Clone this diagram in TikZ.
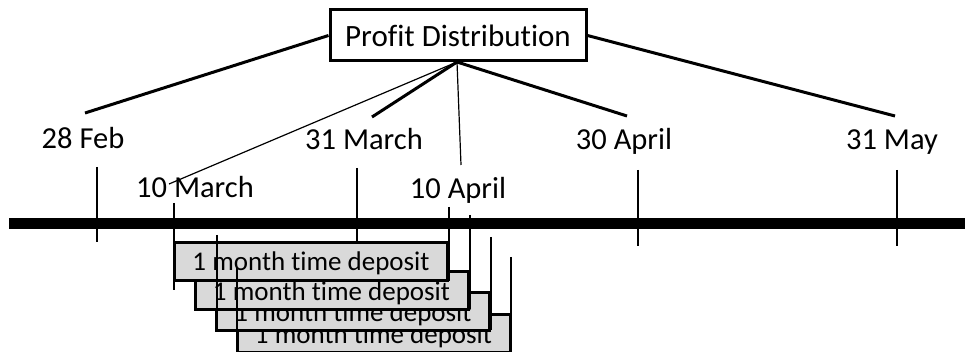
\documentclass[tikz,border=0pt]{standalone}
\usepackage{fontspec}
\setmainfont{Carlito}[Ligatures=NoCommon]
\definecolor{boxgray}{RGB}{217,217,217}
\begin{document}
\begin{tikzpicture}[x=1pt,y=-1pt,
  datelabel/.style={font=\fontsize{30.5}{36}\selectfont, inner sep=0pt, anchor=base},
  thickconn/.style={line width=3pt},
  thinconn/.style={line width=1.2pt},
  tick/.style={line width=1.5pt},
  depbox/.style={draw, line width=3pt, fill=boxgray, minimum width=273pt, minimum height=38pt,
    inner sep=0pt, text height=19pt, text depth=0pt, font=\fontsize{27}{32}\selectfont}]
\useasboundingbox (0,0) rectangle (965,352);

% title
\node[draw, line width=3pt, minimum width=256pt, minimum height=51pt, inner sep=0pt,
  font=\fontsize{31}{36}\selectfont] (pd) at (458,35.5) {Profit Distribution};

% date labels
\node[datelabel] (feb28) at (83,149) {28 Feb};
\node[datelabel] (mar31) at (364,150) {31 March};
\node[datelabel] (apr30) at (624,150) {30 April};
\node[datelabel] (may31) at (892,150) {31 May};
\node[datelabel] (mar10) at (195,198) {10 March};
\node[datelabel] (apr10) at (458,199) {10 April};

% connector ends
\coordinate (efeb28) at (85,113);
\coordinate (emar31) at (372,117);
\coordinate (eapr30) at (627,116);
\coordinate (emay31) at (895,116);
\coordinate (emar10) at (169,184);
\coordinate (eapr10) at (461,165);
\coordinate (hub) at (457,62);

\draw[thickconn] (pd.west) -- (efeb28);
\draw[thickconn] (pd.east) -- (emay31);
\draw[thickconn] (hub) -- (emar31);
\draw[thickconn] (hub) -- (eapr30);
\draw[thinconn] (hub) -- (emar10);
\draw[thinconn] (hub) -- (eapr10);

% timeline
\draw[line width=11pt] (9,223.5) -- (965,223.5);

% upper ticks
\draw[tick] (97,167) -- (97,242);
\draw[tick] (357,168) -- (357,246);
\draw[tick] (638,170) -- (638,246);
\draw[tick] (897,170) -- (897,246);

% deposit boxes (back to front)
\node[depbox] (d4) at (373.5,333.5) {1 month time deposit};
\node[depbox] (d3) at (353,311.5) {1 month time deposit};
\node[depbox] (d2) at (331.5,290.5) {1 month time deposit};
\node[depbox] (d1) at (311,261.5) {1 month time deposit};

% deposit start / end ticks
\draw[tick] (174,203) -- (174,290);
\draw[tick] (217,235) -- (217,332);
\draw[tick] (237,268) -- (237,352);
\draw[tick] (449,207) -- (449,281);
\draw[tick] (470,215) -- (470,309);
\draw[tick] (491,237) -- (491,330);
\draw[tick] (511,257) -- (511,352);
\end{tikzpicture}
\end{document}
